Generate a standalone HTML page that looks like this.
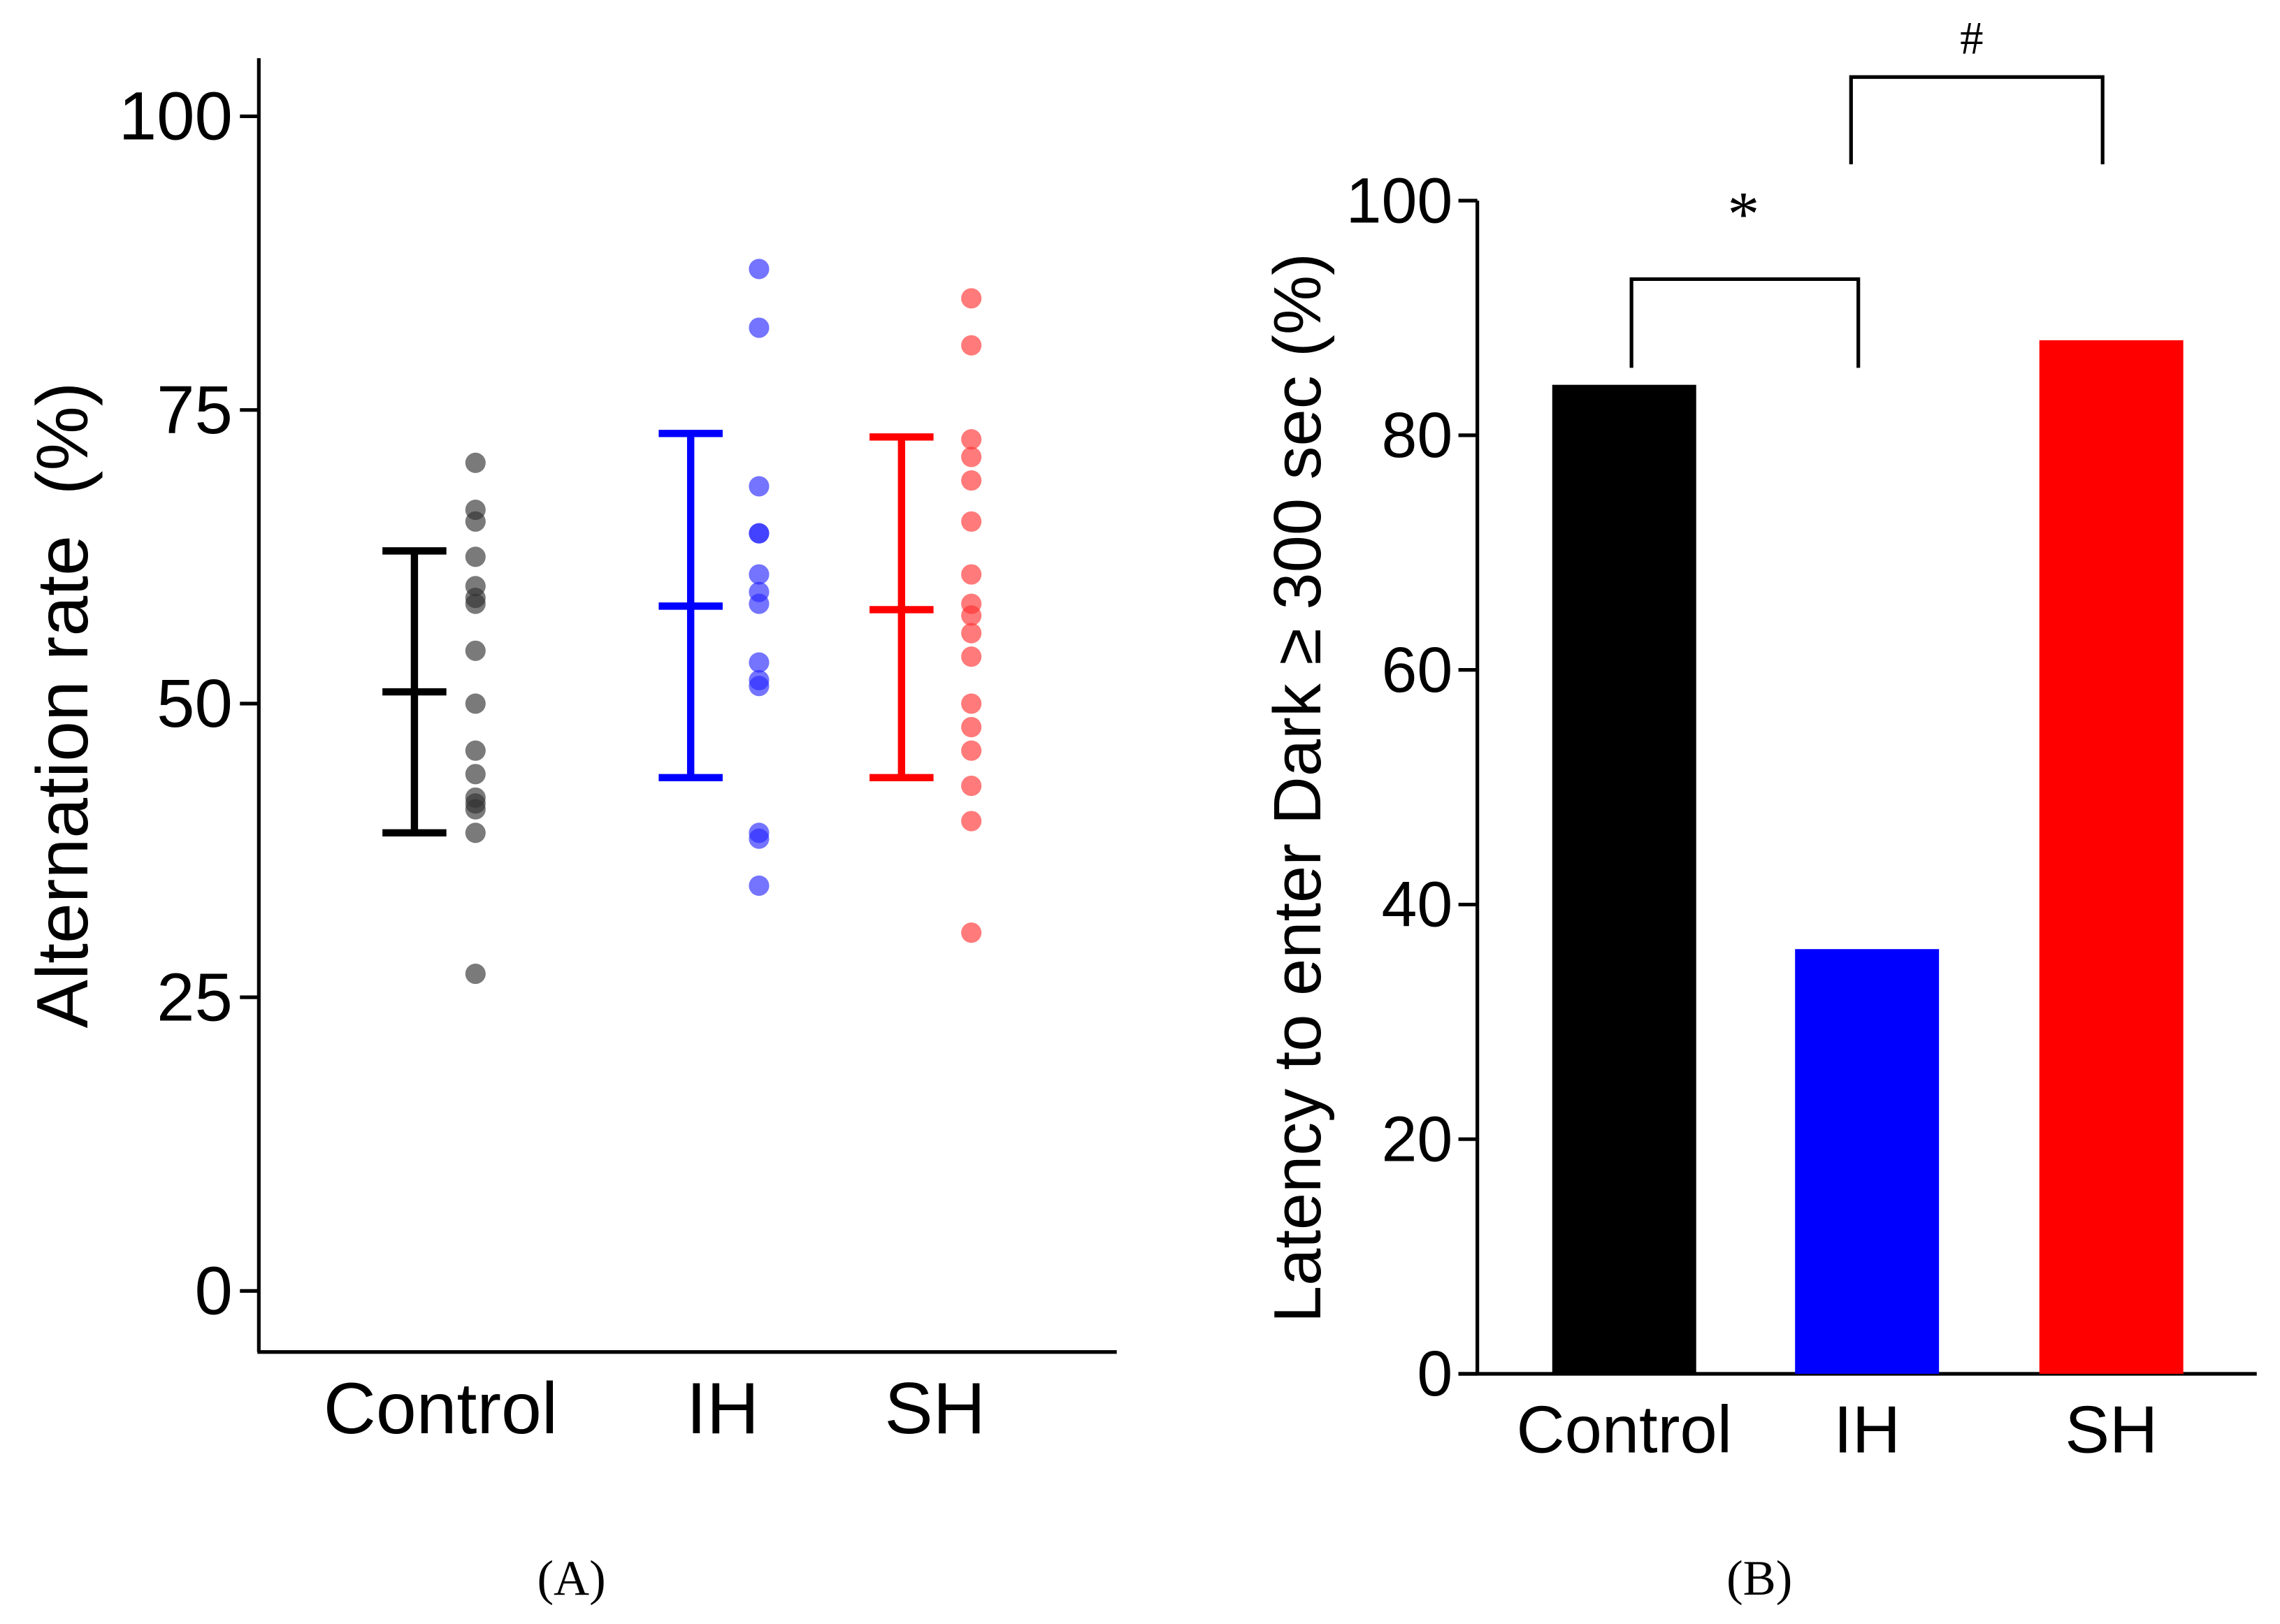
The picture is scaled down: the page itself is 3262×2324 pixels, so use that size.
<!DOCTYPE html>
<html><head><meta charset="utf-8"><style>
html,body{margin:0;padding:0;background:#fff}
svg{display:block}
</style></head><body>
<svg id="chart" width="3262" height="2324" viewBox="0 0 1568 1117.1" preserveAspectRatio="none" xmlns="http://www.w3.org/2000/svg" font-family="Liberation Sans, sans-serif">
<g id="pa"></g>
<g id="pb"></g>
</svg>
<script>
const groupsA = ["Control","IH","SH"];
const meansA = [51, 58.3, 58];
const upperA = [63, 73, 72.7];
const lowerA = [39, 43.7, 43.7];
const ptsControl = [70.5,66.5,65.5,62.5,60,59,58.5,54.5,50,46,44,42,41.5,41,39,27];
const ptsIH = [87,82,68.5,64.5,64.5,61,59.5,58.5,53.5,52,51.5,39,38.5,34.5];
const ptsSH = [84.5,80.5,72.5,71,69,65.5,61,58.5,57.5,56,54,50,48,46,43,40,30.5];
const ticksA = [0,25,50,75,100];
const groupsB = ["Control","IH","SH"];
const valuesB = [84.3, 36.2, 88.1];
const ticksB = [0,20,40,60,80,100];

const NS="http://www.w3.org/2000/svg";
const SERIF='font-family:"Liberation Serif",serif';
function mk(parent,tag,attrs,txt){const e=document.createElementNS(NS,tag);for(const k in attrs)e.setAttribute(k,attrs[k]);if(txt!==undefined)e.textContent=txt;parent.appendChild(e);return e;}

// Panel A
const pa=document.getElementById('pa');
const yA=v=>888-(v/25)*202;
const barX=[285,475,620], ptX=[327,522,668], labX=[303,497,643];
const colA=["#000","#0000ff","#ff0000"];
const ptCol=["#333","#2a2aff","#ff3333"];
let e;
e=mk(pa,'line',{x1:178,y1:40,x2:178,y2:930,stroke:'#000','stroke-width':2.5});


e=mk(pa,'line',{x1:177,y1:930,x2:768,y2:930,stroke:'#000','stroke-width':2.5});


ticksA.forEach(t=>{
  e=mk(pa,'line',{x1:165,y1:yA(t),x2:178,y2:yA(t),stroke:'#000','stroke-width':2.5});
  
  
  e=mk(pa,'text',{x:160,y:yA(t)+16,'text-anchor':'end','font-size':47,fill:'#000'},String(t));
  
  
});
e=mk(pa,'text',{x:0,y:0,'font-size':50,'text-anchor':'middle',transform:'translate(60,485) rotate(-90)'},'Alternation rate\u00a0\u00a0(%)');


[ptsControl,ptsIH,ptsSH].forEach((arr,i)=>{
  arr.forEach(v=>{
    e=mk(pa,'circle',{cx:ptX[i],cy:yA(v),r:7,fill:ptCol[i],'fill-opacity':0.65});
    
    
  });
  const g=mk(pa,'g',{stroke:colA[i],'stroke-width':5,fill:'none'});
  
  
  mk(g,'line',{x1:barX[i],y1:yA(upperA[i]),x2:barX[i],y2:yA(lowerA[i])});
  mk(g,'line',{x1:barX[i]-22,y1:yA(upperA[i]),x2:barX[i]+22,y2:yA(upperA[i])});
  mk(g,'line',{x1:barX[i]-22,y1:yA(lowerA[i]),x2:barX[i]+22,y2:yA(lowerA[i])});
  mk(g,'line',{x1:barX[i]-22,y1:yA(meansA[i]),x2:barX[i]+22,y2:yA(meansA[i])});
  e=mk(pa,'text',{x:labX[i],y:986,'text-anchor':'middle','font-size':50},groupsA[i]);
  
  
});
e=mk(pa,'text',{x:393,y:1097,'text-anchor':'middle','font-size':34,style:SERIF},'(A)');



// Panel B
const pb=document.getElementById('pb');
const yB=v=>945-v*8.07;
const cx=[1117,1284,1452], bw=99, colB=["#000","#0000ff","#ff0000"];
e=mk(pb,'line',{x1:1016,y1:138,x2:1016,y2:946,stroke:'#000','stroke-width':2.5});


e=mk(pb,'line',{x1:1003,y1:945,x2:1552,y2:945,stroke:'#000','stroke-width':2.5});


ticksB.forEach(t=>{
  e=mk(pb,'line',{x1:1003,y1:yB(t),x2:1016,y2:yB(t),stroke:'#000','stroke-width':2.5});
  
  
  e=mk(pb,'text',{x:999,y:yB(t)+15,'text-anchor':'end','font-size':44},String(t));
  
  
});
e=mk(pb,'text',{x:0,y:0,'font-size':46,'text-anchor':'middle',transform:'translate(908,542) rotate(-90)'},'Latency to enter Dark \u2265 300 sec (%)');


valuesB.forEach((v,i)=>{
  e=mk(pb,'rect',{x:cx[i]-bw/2,y:yB(v),width:bw,height:yB(0)-yB(v),fill:colB[i]});
  
  
  e=mk(pb,'text',{x:cx[i],y:999,'text-anchor':'middle','font-size':46},groupsB[i]);
  
  
});
e=mk(pb,'path',{d:'M1122,253 V192 H1278 V253',stroke:'#000','stroke-width':2.5,fill:'none'});


e=mk(pb,'text',{x:1199,y:162,'text-anchor':'middle','font-size':44,style:SERIF},'*');


e=mk(pb,'path',{d:'M1273,113 V53 H1446 V113',stroke:'#000','stroke-width':2.5,fill:'none'});


e=mk(pb,'text',{x:1356,y:37,'text-anchor':'middle','font-size':32,style:SERIF},'#');


e=mk(pb,'text',{x:1210,y:1097,'text-anchor':'middle','font-size':34,style:SERIF},'(B)');


</script>
</body></html>
